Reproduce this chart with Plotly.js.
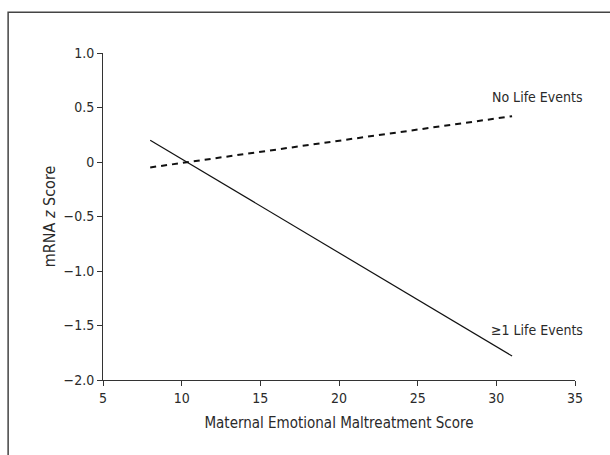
<!DOCTYPE html>
<html>
<head>
<meta charset="utf-8">
<script src="https://cdn.plot.ly/plotly-3.0.1.min.js"></script>
<style>html,body{margin:0;padding:0;background:#fff;}#chart{width:610px;height:455px;}</style>
</head>
<body>
<div id="chart"></div>
<script>
const xScore = [8, 31];
const noEvents = [-0.05, 0.42];
const withEvents = [0.2, -1.78];
const seriesLabels = ["No Life Events", "\u22651 Life Events"];
const labelX = [32.6, 32.6];
const labelY = [0.6, -1.54];
const xTicks = [5, 10, 15, 20, 25, 30, 35];
const yTicks = [-2.0, -1.5, -1.0, -0.5, 0, 0.5, 1.0];
const yTickText = ["\u22122.0", "\u22121.5", "\u22121.0", "\u22120.5", "0", "0.5", "1.0"];

const FONT = "DejaVu Sans Condensed, Liberation Sans Narrow, Arial Narrow, Liberation Sans, sans-serif";
const traces = [
  {x: xScore, y: noEvents, mode: "lines", line: {color: "#111", width: 2, dash: "6px,5px"}, hoverinfo: "skip", name: seriesLabels[0]},
  {x: xScore, y: withEvents, mode: "lines", line: {color: "#111", width: 1.2}, hoverinfo: "skip", name: seriesLabels[1]}
];
const layout = {
  width: 610, height: 455,
  margin: {l: 103, r: 35, t: 53, b: 75},
  showlegend: false,
  paper_bgcolor: "#fff", plot_bgcolor: "#fff",
  font: {family: FONT, size: 14, color: "#2a2a2a"},
  xaxis: {
    range: [5, 35], tickvals: xTicks, ticktext: xTicks.map(String),
    tickfont: {family: FONT, size: 14, color: "#2a2a2a"},
    showgrid: false, zeroline: false, showline: true, linecolor: "#333", linewidth: 1,
    ticks: "outside", ticklen: 5, tickcolor: "#333",
    title: {text: "Maternal Emotional Maltreatment Score", font: {family: FONT, size: 15}, standoff: 12}
  },
  yaxis: {
    range: [-2.0, 1.0], tickvals: yTicks, ticktext: yTickText,
    tickfont: {family: FONT, size: 14, color: "#2a2a2a"},
    showgrid: false, zeroline: false, showline: true, linecolor: "#333", linewidth: 1,
    ticks: "outside", ticklen: 5, tickcolor: "#333",
    title: {text: "mRNA <i>z</i> Score", font: {family: FONT, size: 16}, standoff: 4}
  },
  annotations: seriesLabels.map((t, i) => ({
    x: labelX[i], y: labelY[i], xref: "x", yref: "y", text: t, showarrow: false,
    font: {family: FONT, size: 14, color: "#2a2a2a"}, xanchor: "center", yanchor: "middle"
  })),
  shapes: [{
    type: "rect", xref: "paper", yref: "paper",
    x0: -0.201, x1: 1.3, y0: -0.5, y1: 1.125,
    line: {color: "#444", width: 1.5}, fillcolor: "rgba(0,0,0,0)", layer: "below"
  }]
};
Plotly.newPlot("chart", traces, layout, {displayModeBar: false, staticPlot: true});
</script>
</body>
</html>
